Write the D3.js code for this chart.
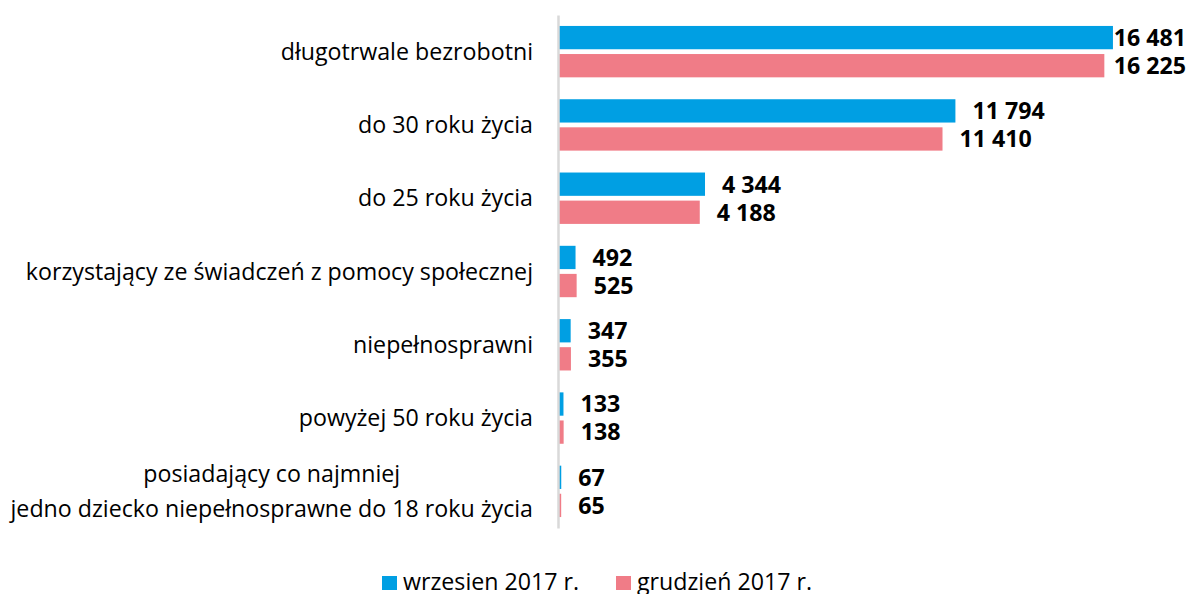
<!DOCTYPE html>
<html>
<head>
<meta charset="utf-8">
<script src="https://cdn.jsdelivr.net/npm/d3@7"></script>
<style>
    body { margin: 0; background: #fff; }
    svg { display: block; font-family: "Open Sans", sans-serif; }
</style>
</head>
<body>
<div id="chart"></div>
<script>
var categories = [
    "długotrwale bezrobotni",
    "do 30 roku życia",
    "do 25 roku życia",
    "korzystający ze świadczeń z pomocy społecznej",
    "niepełnosprawni",
    "powyżej 50 roku życia",
    "posiadający co najmniej\njedno dziecko niepełnosprawne do 18 roku życia"
];
var seriesNames = ["wrzesien 2017 r.", "grudzień 2017 r."];
var wrzesien = [16481, 11794, 4344, 492, 347, 133, 67];
var grudzien = [16225, 11410, 4188, 525, 355, 138, 65];
var colors = ["#009fe3", "#f07c87"];

drawChart();

function drawChart() {
    var W = 1190, H = 594;
    var margin = { top: 15, left: 559 };
    var width = 605;
    var height = 513;
    var fontSize = 23.2;

    var rows = categories.map(function(c, i) {
        return { name: c, values: [wrzesien[i], grudzien[i]] };
    });

    var svg = d3.select("#chart").append("svg")
        .attr("width", W)
        .attr("height", H);

    var x = d3.scaleLinear()
        .domain([0, 18000])
        .range([0, width]);

    var y = d3.scaleBand()
        .domain(categories)
        .range([0, height])
        .padding(0);

    var sub = d3.scaleBand()
        .domain([0, 1])
        .range([0, y.bandwidth()])
        .paddingInner(0.17)
        .paddingOuter(0.39);

    var g = svg.append("g")
        .attr("transform", "translate(" + margin.left + "," + margin.top + ")");

    // bars
    var row = g.selectAll(".row")
        .data(rows)
        .enter().append("g")
        .attr("class", "row")
        .attr("transform", function(d) { return "translate(0," + y(d.name) + ")"; });

    row.selectAll("rect")
        .data(function(d) { return d.values; })
        .enter().append("rect")
        .attr("x", 0)
        .attr("y", function(d, i) { return sub(i); })
        .attr("width", function(d) { return x(d); })
        .attr("height", sub.bandwidth())
        .attr("fill", function(d, i) { return colors[i]; });

    // value labels, pushed back inside when they run past the edge
    row.selectAll("text.val")
        .data(function(d) { return d.values; })
        .enter().append("text")
        .attr("class", "val")
        .attr("y", function(d, i) { return sub(i) + sub.bandwidth() / 2; })
        .attr("dy", "0.36em")
        .attr("font-size", fontSize)
        .attr("font-weight", "bold")
        .attr("fill", "#000")
        .text(function(d) { return d3.format(",")(d).replace(/,/g, " "); })
        .attr("x", function(d) {
            var w = this.getComputedTextLength();
            var pos = x(d) + 17;
            var maxX = W - 4 - margin.left;
            return Math.min(pos, maxX - w);
        });

    // category axis
    var axis = g.append("g")
        .attr("transform", "translate(-1,0)")
        .call(d3.axisLeft(y).tickSize(0).tickSizeOuter(0).tickPadding(25));

    axis.attr("font-family", null).attr("font-size", null);
    axis.select(".domain")
        .attr("stroke", "#d9d9d9")
        .attr("stroke-width", 2.5);

    // multi-line labels are centred as a block, right edge at the padding
    axis.selectAll(".tick text")
        .attr("font-size", fontSize)
        .attr("fill", "#000")
        .each(function(d) {
            var lines = d.split("\n");
            var t = d3.select(this).text(null).attr("dy", null);
            if (lines.length === 1) {
                t.text(d).attr("dy", "0.35em");
                return;
            }
            var spans = lines.map(function(l, i) {
                return t.append("tspan")
                    .attr("dy", i === 0 ? (0.35 - (lines.length - 1) * 0.755) + "em" : "1.51em")
                    .text(l);
            });
            var maxW = d3.max(spans, function(s) { return s.node().getComputedTextLength(); });
            t.attr("text-anchor", "middle");
            spans.forEach(function(s) { s.attr("x", -25 - maxW / 2); });
        });

    // legend
    var legendX = [382, 616];
    var legend = svg.append("g")
        .selectAll("g")
        .data(seriesNames)
        .enter().append("g")
        .attr("transform", function(d, i) { return "translate(" + legendX[i] + ",576)"; });

    legend.append("rect")
        .attr("width", 15)
        .attr("height", 14)
        .attr("fill", function(d, i) { return colors[i]; });

    legend.append("text")
        .attr("x", 21)
        .attr("y", 14)
        .attr("font-size", fontSize)
        .attr("fill", "#000")
        .text(function(d) { return d; });
}
</script>
</body>
</html>
